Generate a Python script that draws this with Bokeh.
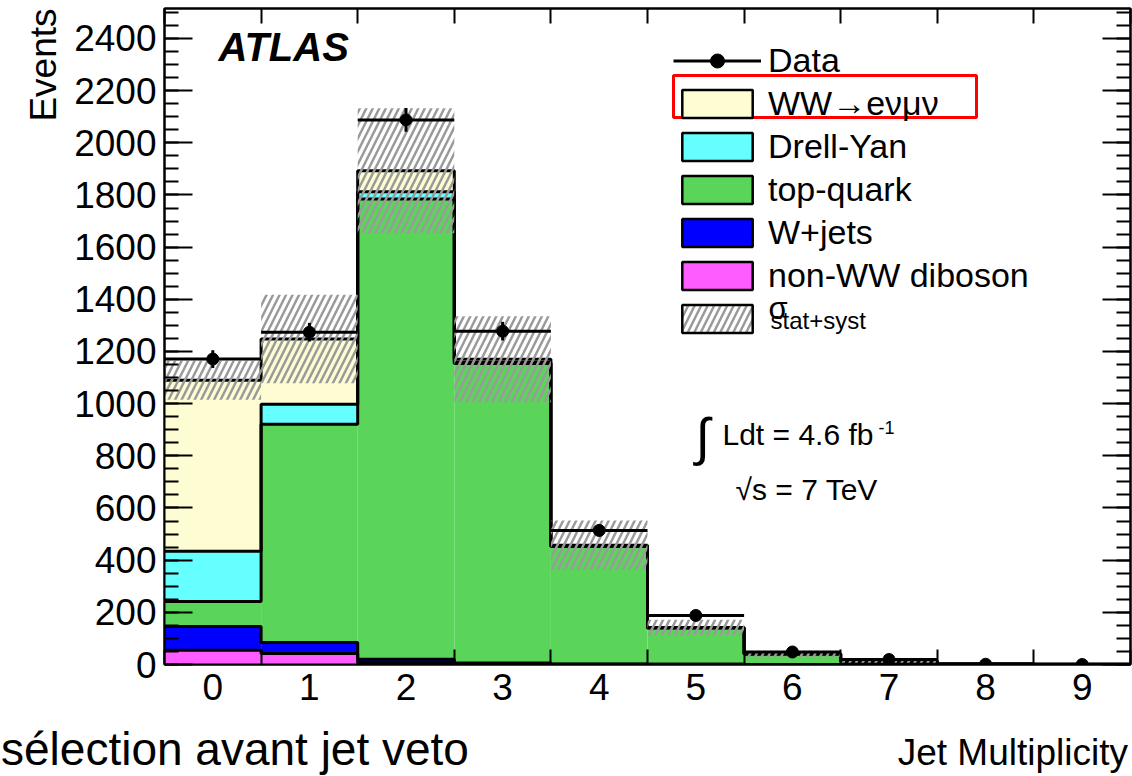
import numpy as np
from bokeh.plotting import figure
from bokeh.layouts import column
from bokeh.models import (ColumnDataSource, FixedTicker, SingleIntervalTicker, LinearAxis,
                          Legend, LegendItem, Label, BoxAnnotation, Range1d, Title, Div)
from bokeh.embed import file_html
from bokeh.resources import INLINE

# ---------------- data ----------------
jet_bins = [0, 1, 2, 3, 4, 5, 6, 7, 8, 9]
data_counts = [1171, 1274, 2088, 1278, 514, 188, 48, 19, 1, 0]
non_ww_diboson = [55, 42, 8, 3, 1, 0.5, 0, 0, 0, 0]
w_jets = [91, 42, 12, 3, 1, 0.5, 0, 0, 0, 0]
top_quark = [96, 837, 1765, 1148, 450, 139, 40, 12, 2, 0.5]
drell_yan = [192, 77, 27, 4, 1, 0.5, 0, 0, 0, 0]
ww_emu = [656, 250, 81, 12, 4, 1.5, 1, 0.5, 0, 0]
stat_syst = [75, 170, 240, 165, 95, 30, 12, 6, 2, 0.5]

y_ticks_interval = 200
x_tick_labels = [str(b) for b in jet_bins]

FONT = "Liberation Sans"

bins = np.array(jet_bins, dtype=float)
left = bins - 0.5
right = bins + 0.5
edges = list(left) + [right[-1]]

p = figure(width=1132, height=716, output_backend="svg", toolbar_location=None,
           x_range=Range1d(-0.5, 9.5), y_range=Range1d(0, 2515),
           x_axis_location=None, y_axis_location=None,
           min_border_left=164, min_border_right=2, min_border_top=8, min_border_bottom=52)
p.xgrid.grid_line_color = None
p.ygrid.grid_line_color = None
p.outline_line_color = "black"
p.outline_line_width = 2
p.background_fill_color = "white"
p.border_fill_color = "white"

# ---------------- axes ----------------
def style_axis(ax):
    ax.axis_line_color = "black"
    ax.axis_line_width = 2
    ax.major_tick_line_color = "black"
    ax.major_tick_line_width = 2
    ax.minor_tick_line_color = "black"
    ax.minor_tick_line_width = 2
    ax.major_label_text_font = FONT
    ax.major_label_text_color = "black"

xb = LinearAxis(ticker=FixedTicker(ticks=jet_bins, minor_ticks=edges))
style_axis(xb)
xb.major_label_overrides = {b: lab for b, lab in zip(jet_bins, x_tick_labels)}
xb.major_tick_in = 0
xb.major_tick_out = 0
xb.minor_tick_in = 15
xb.minor_tick_out = 0
xb.major_label_text_font_size = "37px"
xb.major_label_standoff = 9
p.add_layout(xb, "below")

xt = LinearAxis(ticker=FixedTicker(ticks=[], minor_ticks=edges))
style_axis(xt)
xt.major_tick_in = 0
xt.major_tick_out = 0
xt.minor_tick_in = 15
xt.minor_tick_out = 0
xt.major_label_text_font_size = "0px"
xt.major_label_standoff = 0
p.add_layout(xt, "above")

yl = LinearAxis(ticker=SingleIntervalTicker(interval=y_ticks_interval, num_minor_ticks=4))
style_axis(yl)
yl.major_tick_in = 28
yl.major_tick_out = 0
yl.minor_tick_in = 14
yl.minor_tick_out = 0
yl.major_label_text_font_size = "37px"
yl.major_label_standoff = 8
p.add_layout(yl, "left")

yr = LinearAxis(ticker=SingleIntervalTicker(interval=y_ticks_interval, num_minor_ticks=4))
style_axis(yr)
yr.major_tick_in = 28
yr.major_tick_out = 0
yr.minor_tick_in = 14
yr.minor_tick_out = 0
yr.major_label_text_font_size = "0px"
yr.major_label_standoff = 0
p.add_layout(yr, "right")

p.add_layout(Title(text="Events", align="right", vertical_align="top", text_font=FONT,
                   text_font_size="37px", text_font_style="normal", text_color="black",
                   standoff=12), "left")

# ---------------- stacked MC ----------------
layers = [
    ("non-WW diboson", non_ww_diboson, "#ff5cff"),
    ("W+jets", w_jets, "#0000ff"),
    ("top-quark", top_quark, "#5ad55a"),
    ("Drell-Yan", drell_yan, "#66ffff"),
    ("WW\u2192e\u03bd\u03bc\u03bd", ww_emu, "#fdfcd2"),
]
bottom = np.zeros(len(bins))
legend_renderers = {}
tops = []
for name, vals, col in layers:
    top = bottom + np.array(vals, dtype=float)
    src = ColumnDataSource(dict(left=left, right=right, bottom=bottom, top=top))
    p.quad(left="left", right="right", bottom="bottom", top="top", source=src,
           fill_color=col, line_color=None)
    lr = p.quad(left="left", right="right", bottom="bottom", top="top", source=src,
                fill_color=col, line_color="black", line_width=2.5, visible=False)
    legend_renderers[name] = lr
    tops.append(top)
    bottom = top

for top in tops:
    p.step(x=edges, y=list(top) + [top[-1]], mode="after", line_color="black", line_width=3)

total = tops[-1]
unc = np.array(stat_syst, dtype=float)
band_src = ColumnDataSource(dict(left=left, right=right, bottom=total - unc, top=total + unc))
p.quad(left="left", right="right", bottom="bottom", top="top", source=band_src,
       fill_color=None, line_color=None, hatch_pattern="/", hatch_color="#9a9a9a",
       hatch_weight=2.5, hatch_scale=13)
band_leg = p.quad(left="left", right="right", bottom="bottom", top="top", source=band_src,
                  fill_color="white", line_color="black", line_width=2.5, hatch_pattern="/",
                  hatch_color="#9a9a9a", hatch_weight=2.5, hatch_scale=13, visible=False)

# ---------------- data ----------------
d = np.array(data_counts, dtype=float)
err = np.sqrt(d)
dsrc = ColumnDataSource(dict(x=bins, y=d, x0=left, x1=right, ylo=d - err, yhi=d + err))
h = p.segment(x0="x0", y0="y", x1="x1", y1="y", source=dsrc, line_color="black", line_width=3)
p.segment(x0="x", y0="ylo", x1="x", y1="yhi", source=dsrc, line_color="black", line_width=3)
pts = p.scatter(x="x", y="y", source=dsrc, size=12, marker="circle", fill_color="black",
                line_color="black")

# ---------------- legend ----------------
items = [LegendItem(label="Data", renderers=[h, pts])]
for name in ["WW\u2192e\u03bd\u03bc\u03bd", "Drell-Yan", "top-quark", "W+jets", "non-WW diboson"]:
    items.append(LegendItem(label=name, renderers=[legend_renderers[name]]))
items.append(LegendItem(label=" ", renderers=[band_leg]))
legend = Legend(items=items, location=(509, 327), orientation="vertical", padding=0, margin=0,
                spacing=4, glyph_width=88, glyph_height=35, label_height=38, label_standoff=7,
                label_text_font=FONT, label_text_font_size="34px", label_text_color="black",
                border_line_alpha=0, background_fill_alpha=0, inactive_fill_alpha=0)
p.add_layout(legend)

p.add_layout(BoxAnnotation(left=509, right=812, top=589, bottom=547,
                           left_units="screen", right_units="screen",
                           top_units="screen", bottom_units="screen",
                           fill_alpha=0, line_color="red", line_alpha=1, line_width=3))

# ---------------- texts in the frame ----------------
def lab(fig, text, x, y, size, **kw):
    fig.add_layout(Label(x=x, y=y, x_units="screen", y_units="screen", text=text,
                         text_font=FONT, text_font_size=size, text_color="black", **kw))

lab(p, "\u03c3", 604, 339, "31px")
lab(p, "stat+syst", 606, 331, "24px")
lab(p, "ATLAS", 54, 596, "40px", text_font_style="bold italic")
lab(p, "\u222b", 531, 228, "52px", text_baseline="middle")
lab(p, "Ldt = 4.6 fb", 558, 214, "30px")
lab(p, "-1", 714, 231, "18px")
lab(p, "\u221as = 7 TeV", 571, 159, "30px")

# ---------------- bottom strip with the outer texts ----------------
bottom_html = (
    '<div style="position:relative;width:1132px;height:60px;margin:0;padding:0;'
    'font-family:\'Liberation Sans\';color:black;">'
    '<span style="position:absolute;left:1px;top:10px;font-size:46px;line-height:46px;'
    'white-space:nowrap;">s\u00e9lection avant jet veto</span>'
    '<span style="position:absolute;right:4px;top:18px;font-size:37px;line-height:37px;'
    'white-space:nowrap;">Jet Multiplicity</span>'
    '</div>'
)
strip = Div(text=bottom_html, width=1132, height=60, margin=0)

layout = column(p, strip, spacing=0)
open("out.html", "w").write(file_html(layout, INLINE))
